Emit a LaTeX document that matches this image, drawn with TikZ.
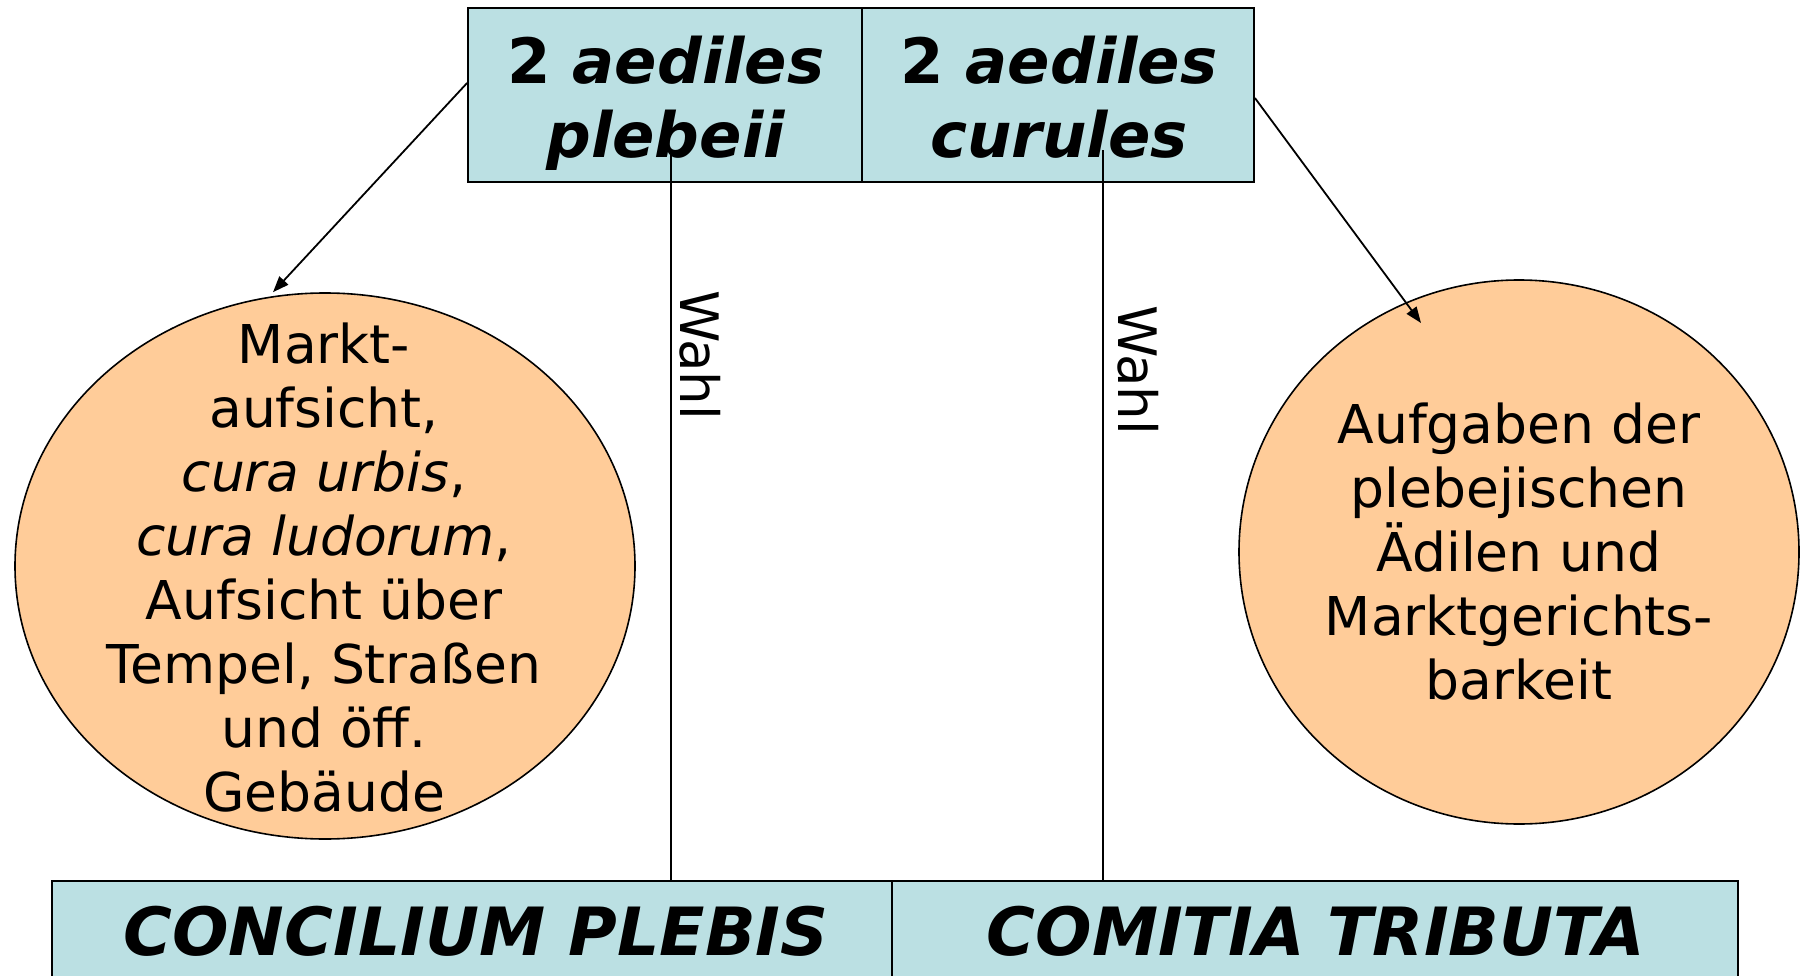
\documentclass[tikz,border=0pt]{standalone}
\usepackage{fontspec}
\setmainfont{DejaVu Sans}
\usetikzlibrary{shapes.geometric,arrows.meta,calc}
\definecolor{boxblue}{HTML}{BBE0E3}
\definecolor{peach}{HTML}{FFCC99}
\begin{document}
\begin{tikzpicture}[x=1pt,y=-1pt,
  topbox/.style={draw, line width=1.8pt, fill=boxblue, rectangle, inner sep=0pt, minimum height=174pt},
  botbox/.style={draw, line width=1.8pt, fill=boxblue, rectangle, inner sep=0pt, minimum height=150pt},
  oval/.style={draw, line width=1.6pt, fill=peach, ellipse, inner sep=0pt},
  ovaltext/.style={align=center, inner sep=0pt, font=\fontsize{53.5}{64}\selectfont},
  toptext/.style={align=center, anchor=north, font=\bfseries\fontsize{62.5}{74}\selectfont, inner sep=0pt},
  bottext/.style={font=\bfseries\itshape\fontsize{66.5}{80}\selectfont, inner sep=0pt, anchor=base},
  link/.style={line width=1.8pt},
  arr/.style={line width=1.8pt, -{Triangle[length=16pt,width=12pt]}},
  wahl/.style={rotate=-90, font=\fontsize{53}{64}\selectfont, inner sep=0pt}]
\useasboundingbox (0,0) rectangle (1804,976);
\clip (0,0) rectangle (1804,976);
\fill[white] (0,0) rectangle (1804,976);
% top boxes
\node[topbox, minimum width=394pt] (plebeii) at (665,95) {};
\node[topbox, minimum width=392pt] (curules) at (1058,95) {};
\node[toptext] (plebeiitext) at (666,36) {2 \textit{aediles}\\\textit{plebeii}};
\node[toptext] (curulestext) at (1059,36) {2 \textit{aediles}\\\textit{curules}};
% bottom boxes
\node[botbox, minimum width=840pt] (cp) at (472,956) {};
\node[botbox, minimum width=846pt] (ct) at (1315,956) {};
\node[bottext] (cptext) at (476,955) {CONCILIUM PLEBIS};
\node[bottext] (cttext) at (1316,955) {COMITIA TRIBUTA};
% ellipses
\node[oval, minimum width=620pt, minimum height=546pt] (aed1) at (325,566) {};
\node[ovaltext] (aed1text) at (324,568) {Markt-\\aufsicht,\\\textit{cura urbis},\\\textit{cura ludorum},\\Aufsicht über\\Tempel, Straßen\\und öff.\\Gebäude};
\node[oval, minimum width=560pt, minimum height=544pt] (aed2) at (1519,552) {};
\node[ovaltext] (aed2text) at (1519,552) {Aufgaben der\\plebejischen\\Ädilen und\\Marktgerichts-\\barkeit};
% election lines
\coordinate (w1) at (671,150);
\coordinate (w2) at (1103,150);
\draw[link] (cp.north -| w1) -- (w1);
\draw[link] (ct.north -| w2) -- (w2);
\node[wahl] (wahl1) at (700,355) {Wahl};
\node[wahl] (wahl2) at (1138,370) {Wahl};
% arrows
\draw[arr] ([yshift=12pt]plebeii.west) -- ([xshift=-52pt]aed1.north);
\draw[arr] ([yshift=-3pt]curules.east) -- ([xshift=-98pt,yshift=229pt]aed2.center);
\end{tikzpicture}
\end{document}
